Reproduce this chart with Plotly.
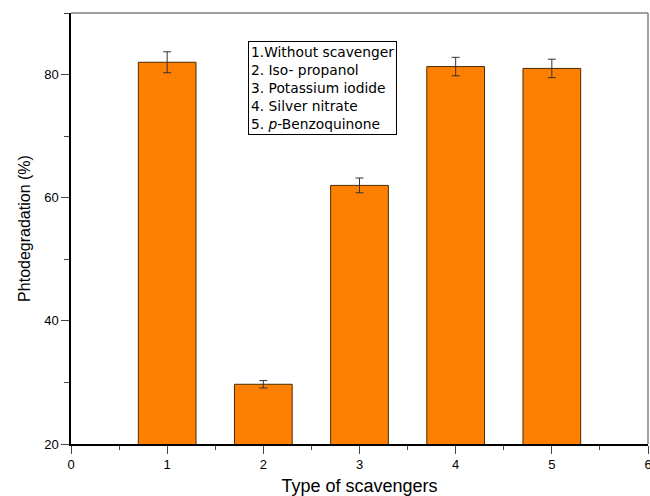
import plotly.graph_objects as go

# Scavenger trapping experiment: photodegradation for each scavenger type
scavenger_ids = [1, 2, 3, 4, 5]
degradation = [82.0, 29.7, 62.0, 81.3, 81.0]
error = [1.7, 0.6, 1.2, 1.5, 1.5]
legend_lines = [
    "1.Without scavenger",
    "2. Iso- propanol",
    "3. Potassium iodide",
    "4. Silver nitrate",
    "5. <i>p</i>-Benzoquinone",
]
x_ticks = [0, 1, 2, 3, 4, 5, 6]
y_ticks = [20, 40, 60, 80]

FONT = "Liberation Sans, Arial, sans-serif"
BOX_FONT = "DejaVu Sans, Verdana, sans-serif"

fig = go.Figure()
fig.add_trace(go.Bar(
    x=scavenger_ids,
    y=degradation,
    width=0.6,
    marker=dict(color="#FF8000", line=dict(color="#4a2a00", width=1)),
    error_y=dict(type="data", array=error, visible=True,
                 color="#333333", thickness=1, width=4),
    showlegend=False,
))

fig.add_annotation(
    text="<br>".join(legend_lines),
    xref="paper", yref="paper", x=0.307, y=0.935,
    xanchor="left", yanchor="top", align="left",
    showarrow=False, bordercolor="black", borderwidth=1, borderpad=2,
    bgcolor="white", font=dict(family=BOX_FONT, size=13.8, color="black"),
)

# Gray frame lines on the top and right
fig.add_shape(type="line", xref="paper", yref="paper", x0=0, x1=1, y0=1, y1=1,
              line=dict(color="#808080", width=1.5))
fig.add_shape(type="line", xref="paper", yref="paper", x0=1, x1=1, y0=0, y1=1,
              line=dict(color="#808080", width=1.5))

fig.update_layout(
    width=650, height=496,
    margin=dict(l=71, r=2, t=13, b=52, autoexpand=False),
    paper_bgcolor="white", plot_bgcolor="white",
    font=dict(family=FONT, size=12, color="black"),
    bargap=0.4,
)
fig.update_xaxes(
    range=[0, 6], tickvals=x_ticks, ticks="outside", ticklen=8, tickwidth=1.2,
    minor=dict(dtick=0.5, ticklen=4, ticks="outside", tickwidth=1.2),
    showline=True, linecolor="black", linewidth=1.5, showgrid=False, zeroline=False,
    ticklabeloverflow="allow", automargin=False,
    title=dict(text="Type of scavengers", font=dict(size=18), standoff=10),
    tickfont=dict(size=13),
)
fig.update_yaxes(
    range=[20, 90], tickvals=y_ticks, ticks="outside", ticklen=8, tickwidth=1.2,
    minor=dict(dtick=10, ticklen=5, ticks="outside", tickwidth=1.2),
    showline=True, linecolor="black", linewidth=1.5, showgrid=False, zeroline=False,
    automargin=False,
    title=dict(text="Phtodegradation (%)", font=dict(size=16), standoff=10),
    tickfont=dict(size=13),
)

fig.write_html("out.html")
